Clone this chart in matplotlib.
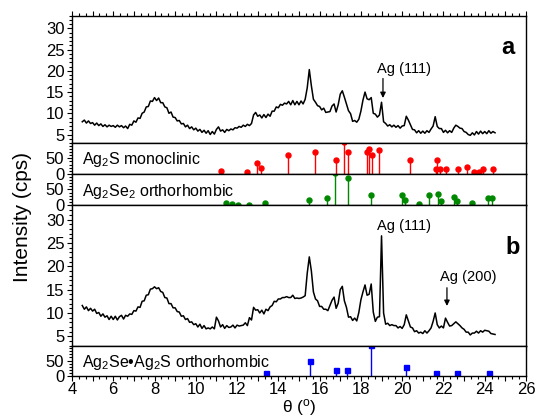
import numpy as np
import matplotlib
matplotlib.use('Agg')
import matplotlib.pyplot as plt
from matplotlib.ticker import MultipleLocator, FuncFormatter

plt.rcParams['font.family'] = ['Liberation Sans', 'DejaVu Sans']
plt.rcParams['mathtext.fontset'] = 'custom'
plt.rcParams['mathtext.rm'] = 'Liberation Sans'
plt.rcParams['mathtext.it'] = 'Liberation Sans:italic'
plt.rcParams['mathtext.default'] = 'regular'

# scan grid, 4.5 .. 24.5 deg in 0.1 steps
theta = np.round(np.arange(4.5, 24.55, 0.1), 2)

# sample a
counts_a = [
    8.0, 8.4, 7.7, 8.2, 7.6,
    7.8, 7.2, 7.7, 7.1, 7.5, 6.9, 7.3, 6.8, 7.2, 6.9,
    7.1, 6.7, 7.2, 6.8, 7.1, 6.6, 7.0, 6.4, 7.4, 7.2,
    8.2, 7.9, 8.9, 8.8, 10.0, 10.3, 11.5, 11.6, 12.9, 12.8,
    13.7, 13.0, 13.6, 12.5, 12.5, 11.5, 11.3, 10.0, 10.3, 9.1,
    9.0, 8.2, 8.3, 7.5, 7.6, 6.8, 7.2, 6.4, 6.8, 6.1,
    6.5, 5.8, 6.2, 5.5, 6.0, 5.3, 5.9, 5.0, 5.7, 5.1,
    6.2, 6.8, 5.8, 6.1, 5.5, 6.2, 5.9, 6.3, 6.1, 6.6,
    6.5, 6.9, 6.7, 7.2, 6.9, 7.4, 7.1, 7.6, 9.6, 10.2,
    9.3, 9.6, 8.9, 9.7, 9.0, 9.8, 9.3, 10.5, 10.5, 11.5,
    11.3, 12.1, 11.9, 12.4, 12.2, 12.8, 12.0, 13.0, 12.0, 12.8,
    12.0, 12.9, 12.2, 13.3, 16.0, 20.3, 16.5, 13.3, 12.6, 11.8,
    11.6, 10.8, 11.2, 10.2, 10.3, 10.4, 11.7, 12.2, 10.3, 12.0,
    14.5, 15.3, 13.8, 12.2, 10.6, 9.9, 8.1, 8.3, 7.9, 8.6,
    10.5, 13.1, 15.0, 13.4, 13.2, 13.7, 10.0, 9.8, 9.1, 9.6,
    12.6, 8.0, 7.6, 7.0, 7.3, 6.8, 7.2, 6.7, 7.1, 6.5,
    7.0, 7.1, 9.3, 8.4, 7.3, 6.2, 6.1, 5.4, 5.9, 5.3,
    5.8, 5.3, 5.9, 5.5, 6.3, 7.0, 9.2, 6.9, 6.4, 6.4,
    5.5, 6.0, 5.4, 5.9, 5.5, 6.5, 7.2, 6.9, 6.5, 6.4,
    5.7, 5.5, 5.0, 4.8, 5.4, 4.9, 5.7, 5.1, 5.8, 5.2,
    5.7, 5.2, 5.9, 5.3, 5.7, 5.4,
]

# sample b
counts_b = [
    11.6, 10.8, 11.3, 10.5, 11.0,
    10.4, 10.8, 9.9, 10.1, 9.3, 9.8, 9.1, 9.4, 8.6, 9.3,
    8.6, 9.3, 8.5, 9.2, 9.5, 8.7, 9.5, 9.3, 9.8, 9.7,
    10.5, 10.4, 11.3, 11.2, 12.5, 12.6, 13.8, 13.9, 15.1, 15.2,
    15.6, 15.2, 15.4, 14.6, 14.4, 13.3, 13.2, 12.0, 12.0, 11.1,
    11.1, 10.3, 10.2, 9.3, 9.4, 8.6, 8.8, 8.0, 8.1, 7.5,
    7.7, 7.0, 7.6, 6.7, 7.3, 6.6, 6.8, 6.6, 7.0, 6.6,
    9.1, 8.3, 7.0, 7.5, 6.7, 7.3, 6.9, 7.0, 7.4, 6.8,
    7.4, 7.2, 7.3, 7.4, 7.9, 7.3, 9.0, 8.5, 11.2, 10.6,
    10.7, 10.0, 10.6, 9.8, 10.8, 10.5, 11.3, 11.6, 12.5, 12.4,
    13.0, 13.0, 13.3, 13.3, 13.5, 13.3, 13.3, 13.8, 13.1, 13.2,
    13.1, 13.2, 13.4, 13.7, 18.5, 22.0, 19.0, 14.5, 13.0, 12.6,
    11.4, 11.4, 10.8, 10.8, 10.5, 11.6, 12.7, 13.4, 11.0, 12.1,
    15.0, 15.7, 12.6, 11.2, 9.1, 9.2, 8.4, 8.9, 8.3, 10.1,
    12.8, 14.5, 16.0, 13.8, 14.0, 16.2, 10.2, 8.2, 9.1, 9.2,
    26.5, 10.0, 7.6, 7.8, 7.3, 7.5, 7.3, 7.3, 6.8, 7.1,
    6.7, 7.5, 9.6, 8.3, 7.0, 6.8, 6.0, 6.2, 5.7, 5.9,
    5.6, 6.2, 5.7, 6.2, 6.8, 8.2, 10.0, 7.5, 6.8, 7.2,
    6.8, 8.9, 8.0, 7.2, 7.3, 7.7, 8.1, 7.7, 7.3, 6.8,
    6.5, 5.9, 5.9, 5.3, 5.7, 5.7, 6.1, 5.7, 6.2, 5.9,
    6.3, 6.2, 6.1, 5.6, 5.5, 5.4,
]

# reference patterns
ag2s_pos = [11.2, 12.46, 12.95, 13.16, 14.48, 15.77, 16.81, 17.18, 17.36, 18.28,
            18.41, 18.55, 18.87, 20.38, 21.62, 21.7, 21.83, 22.12, 22.72, 23.12,
            23.48, 23.7, 23.9, 24.38]
ag2s_int = [10, 5, 35, 20, 61, 71, 45, 100, 71, 71,
            80, 61, 75, 45, 17, 45, 17, 17, 17, 22,
            5, 7, 15, 17]

ag2se2_pos = [11.46, 11.75, 12.03, 12.6, 13.37, 15.47, 16.35, 16.74, 17.36, 18.49,
              19.99, 20.15, 20.83, 21.31, 21.73, 21.89, 22.49, 22.65, 23.4, 24.17,
              24.33]
ag2se2_int = [7, 4, 3, 2, 8, 17, 22, 100, 86, 32,
              33, 17, 4, 34, 35, 14, 26, 15, 7, 24,
              24]

ag2seag2s_pos = [13.38, 15.53, 16.77, 17.31, 18.49, 20.21, 21.64, 22.65, 24.2]
ag2seag2s_int = [10, 50, 20, 20, 100, 30, 10, 10, 10]

fig = plt.figure(figsize=(5.37, 4.18), dpi=100)
L, W = 0.134, 0.8455
ax_a = fig.add_axes([L, 0.6579, W, 0.3046])
ax_s = fig.add_axes([L, 0.5837, W, 0.0742])
ax_se = fig.add_axes([L, 0.5084, W, 0.0754])
ax_b = fig.add_axes([L, 0.1730, W, 0.3354])
ax_ss = fig.add_axes([L, 0.1005, W, 0.0725])
axes = [ax_a, ax_s, ax_se, ax_b, ax_ss]

ax_a.plot(theta, counts_a, color='k', lw=1.1)
ax_b.plot(theta, counts_b, color='k', lw=1.1)


def sticks(ax, pos, vals, color, marker):
    for p, v in zip(pos, vals):
        ax.plot([p, p], [0, v], color=color, lw=1.0)
    ax.plot(pos, vals, linestyle='none', marker=marker, color=color,
            markersize=3.6, clip_on=True)


sticks(ax_s, ag2s_pos, ag2s_int, '#ff0000', 'o')
sticks(ax_se, ag2se2_pos, ag2se2_int, '#008800', 'o')
sticks(ax_ss, ag2seag2s_pos, ag2seag2s_int, '#0000ff', 's')

even_only = FuncFormatter(lambda v, p: f'{int(round(v))}' if int(round(v)) % 2 == 0 else '')

for ax in axes:
    ax.set_xlim(4, 26)
    ax.xaxis.set_major_locator(MultipleLocator(1))
    ax.xaxis.set_minor_locator(MultipleLocator(1 / 3))
    ax.xaxis.set_major_formatter(even_only)
    ax.tick_params(which='both', direction='out', right=False, top=False,
                   labelsize=12, width=0.8, pad=2)
    ax.tick_params(which='major', length=3.5)
    ax.tick_params(which='minor', length=2)
    ax.tick_params(axis='x', labelbottom=False)
    for sp in ax.spines.values():
        sp.set_linewidth(1.0)

ax_a.tick_params(axis='x', which='both', top=True)
ax_ss.tick_params(axis='x', labelbottom=True, pad=1)

for ax in (ax_a, ax_b):
    ax.set_ylim(3, 33)
    ax.yaxis.set_major_locator(MultipleLocator(5))
    ax.yaxis.set_minor_locator(MultipleLocator(1))

for ax in (ax_s, ax_se, ax_ss):
    ax.set_ylim(0, 98)
    ax.yaxis.set_major_locator(MultipleLocator(50))
    ax.yaxis.set_minor_locator(MultipleLocator(10))

ax_s.text(4.5, 45, 'Ag$_2$S monoclinic', fontsize=11.5, va='center')
ax_se.text(4.5, 45, 'Ag$_2$Se$_2$ orthorhombic', fontsize=11.5, va='center')
ax_ss.text(4.5, 45, 'Ag$_2$Se\u2022Ag$_2$S orthorhombic', fontsize=11.5, va='center')

arrow = dict(arrowstyle='-|>', color='k', lw=0.9, mutation_scale=8, shrinkA=0, shrinkB=0)
ax_a.text(20.1, 20.5, 'Ag (111)', fontsize=10.5, ha='center', va='center')
ax_a.annotate('', xy=(19.07, 13.6), xytext=(19.07, 18.2), arrowprops=arrow)
ax_a.text(25.1, 25.5, 'a', fontsize=17, fontweight='bold', ha='center', va='center')

ax_b.text(20.1, 28.6, 'Ag (111)', fontsize=10.5, ha='center', va='center')
ax_b.text(23.2, 17.7, 'Ag (200)', fontsize=10.5, ha='center', va='center')
ax_b.annotate('', xy=(22.17, 11.5), xytext=(22.17, 15.4), arrowprops=arrow)
ax_b.text(25.35, 24.1, 'b', fontsize=17, fontweight='bold', ha='center', va='center')

ax_ss.set_xlabel('θ ($^{\\mathrm{o}}$)', fontsize=12.5, labelpad=0)
fig.text(0.042, 0.481, 'Intensity (cps)', rotation=90, fontsize=15,
         ha='center', va='center')

fig.savefig('out.png', dpi=100)
